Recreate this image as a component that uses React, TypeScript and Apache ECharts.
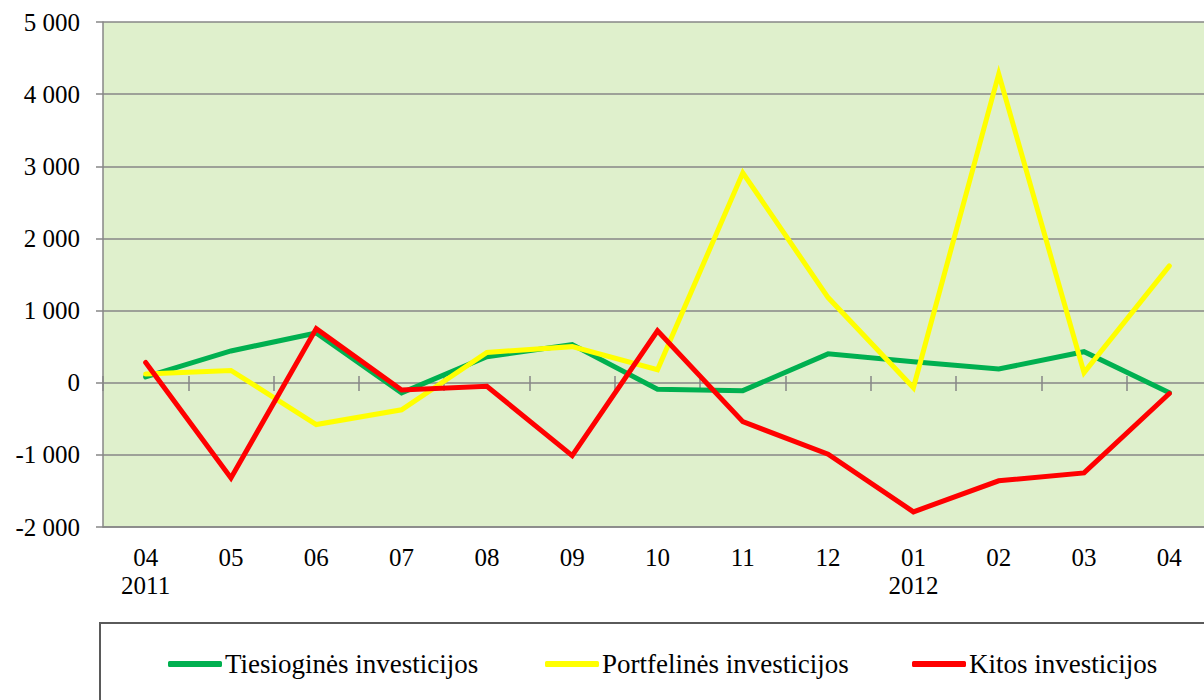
import React, { useEffect, useRef } from "react";
import * as echarts from "echarts";

const categories = ["04\n2011", "05", "06", "07", "08", "09", "10", "11", "12", "01\n2012", "02", "03", "04"];
const seriesNames = ["Tiesioginės investicijos", "Portfelinės investicijos", "Kitos investicijos"];
const tiesiogines = [80, 440, 690, -140, 360, 530, -90, -110, 400, 290, 190, 430, -140];
const portfelines = [120, 170, -580, -375, 420, 500, 180, 2910, 1180, -70, 4280, 140, 1620];
const kitos = [280, -1320, 750, -100, -50, -1010, 720, -540, -990, -1790, -1360, -1250, -150];
const colors = ["#00B050", "#FFFF00", "#FF0000"];
const yMin = -2000;
const yMax = 5000;
const yStep = 1000;

const FONT = "Liberation Serif, Times New Roman, serif";
const GRAY = "#878787";
const CHART_W = 1220;

export default function App() {
  const ref = useRef<HTMLDivElement>(null);
  useEffect(() => {
    document.body.style.margin = "0";
    const chart = echarts.init(ref.current!, null, { renderer: "svg" });
    const fmt = (v: number) => {
      const s = Math.abs(v).toString().replace(/\B(?=(\d{3})+(?!\d))/g, " ");
      return (v < 0 ? "-" : "") + s;
    };
    const legendBase = (name: string, left: number) => ({
      show: true,
      data: [name],
      left,
      top: 649,
      icon: "roundRect",
      itemWidth: 54,
      itemHeight: 6,
      itemGap: 0,
      padding: 0,
      textStyle: { fontFamily: FONT, fontSize: 27, color: "#000", lineHeight: 30, padding: [0, 0, 0, -2] },
    });
    chart.setOption({
      animation: false,
      backgroundColor: "#fff",
      textStyle: { fontFamily: FONT },
      grid: {
        left: 103,
        right: CHART_W - 1212,
        top: 22,
        bottom: 173,
        show: true,
        backgroundColor: "#DFF0CC",
        borderWidth: 0,
      },
      legend: [
        legendBase(seriesNames[0], 168),
        legendBase(seriesNames[1], 545),
        legendBase(seriesNames[2], 912),
      ],
      graphic: [
        {
          type: "rect",
          shape: { x: 100, y: 623, width: 1200, height: 200 },
          style: { fill: "none", stroke: "#5a5a5a", lineWidth: 2 },
          silent: true,
        },
      ],
      xAxis: [
        {
          type: "category",
          data: categories,
          boundaryGap: true,
          position: "bottom",
          axisLine: { show: true, onZero: false, lineStyle: { color: GRAY, width: 1.5 } },
          axisTick: { show: false },
          axisLabel: {
            fontFamily: FONT,
            fontSize: 25,
            color: "#000",
            lineHeight: 28,
            margin: 16,
            interval: 0,
          },
          splitLine: { show: false },
        },
        {
          type: "category",
          data: categories,
          boundaryGap: true,
          position: "bottom",
          offset: -151,
          axisLine: { show: false, onZero: false },
          axisTick: { show: true, length: 15, lineStyle: { color: GRAY, width: 1.5 } },
          axisLabel: { show: false },
          splitLine: { show: false },
        },
      ],
      yAxis: {
        type: "value",
        min: yMin,
        max: yMax,
        interval: yStep,
        axisLine: { show: true, lineStyle: { color: GRAY, width: 1.5 } },
        axisTick: { show: true, length: 7, lineStyle: { color: GRAY, width: 1.5 } },
        axisLabel: {
          fontFamily: FONT,
          fontSize: 25,
          color: "#000",
          margin: 23,
          formatter: (v: number) => fmt(v),
        },
        splitLine: { show: true, lineStyle: { color: GRAY, width: 1.5 } },
      },
      series: [tiesiogines, portfelines, kitos].map((d, i) => ({
        name: seriesNames[i],
        type: "line",
        data: d,
        xAxisIndex: 0,
        symbol: "none",
        color: colors[i],
        lineStyle: { width: 5, color: colors[i], cap: "round", join: "miter" },
        z: 3 + i,
      })),
    });
    return () => chart.dispose();
  }, []);
  return (
    <div style={{ width: 1204, height: 700, overflow: "hidden", position: "relative" }}>
      <div ref={ref} style={{ width: CHART_W, height: 700 }} />
    </div>
  );
}
